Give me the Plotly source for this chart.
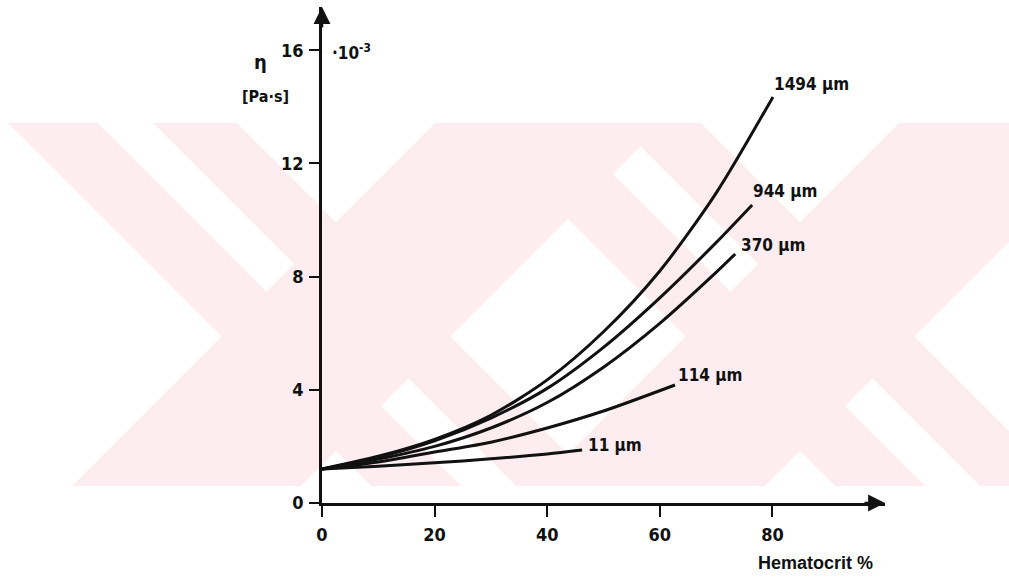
import plotly.graph_objects as go

# Hematocrit (%) and apparent viscosity (x 10^-3 Pa·s) for several tube diameters
hct_1494 = [0, 10, 20, 30, 40, 50, 60, 70, 80.1]
eta_1494 = [1.2, 1.65, 2.25, 3.1, 4.35, 6.05, 8.2, 10.95, 14.35]

hct_944 = [0, 10, 20, 30, 40, 50, 60, 70, 76.4]
eta_944 = [1.2, 1.62, 2.2, 3.0, 4.05, 5.5, 7.25, 9.2, 10.53]

hct_370 = [0, 10, 20, 30, 40, 50, 60, 70, 73.4]
eta_370 = [1.2, 1.55, 2.0, 2.65, 3.55, 4.8, 6.35, 8.15, 8.8]

hct_114 = [0, 10, 20, 30, 40, 50, 62.7]
eta_114 = [1.2, 1.45, 1.8, 2.15, 2.65, 3.25, 4.17]

hct_11 = [0, 10, 20, 30, 40, 46.2]
eta_11 = [1.2, 1.3, 1.42, 1.56, 1.73, 1.87]

series_labels = ["1494 µm", "944 µm", "370 µm", "114 µm", "11 µm"]
x_ticks = [0, 20, 40, 60, 80]
y_ticks = [0, 4, 8, 12, 16]

W, H = 1009, 586
L, R, T, B = 322, 124, 7, 83
PW, PH = W - L - R, H - T - B
X_MAX = 100
Y_MAX = PH / 28.3

FONT = "DejaVu Sans Condensed, Liberation Sans Narrow, DejaVu Sans, sans-serif"
INK = "#111111"


def px(x):
    return (x - L) / PW


def py(y):
    return (H - B - y) / PH


fig = go.Figure()

for xs, ys in [(hct_1494, eta_1494), (hct_944, eta_944), (hct_370, eta_370),
               (hct_114, eta_114), (hct_11, eta_11)]:
    fig.add_trace(go.Scatter(
        x=xs, y=ys, mode="lines",
        line=dict(color=INK, width=3, shape="spline", smoothing=0.8),
        hoverinfo="skip", showlegend=False,
    ))

# faint watermark bands behind the plot
PINK = "#fdedf0"
Y_TOP, Y_BOT = 123, 486


def back_band(a, b):
    # region where x - y lies in [a, b]
    return [(a + Y_TOP, Y_TOP), (b + Y_TOP, Y_TOP), (b + Y_BOT, Y_BOT), (a + Y_BOT, Y_BOT)]


def fwd_band(c, d):
    # region where x + y lies in [c, d]
    return [(c - Y_TOP, Y_TOP), (d - Y_TOP, Y_TOP), (d - Y_BOT, Y_BOT), (c - Y_BOT, Y_BOT)]


bands = []
for shift in (0, 464):
    bands.append(back_band(-115 + shift, -25 + shift))
    bands.append(back_band(30 + shift, 114 + shift))
    bands.append(fwd_band(558 + shift, 787 + shift))

shapes = []
for pts in bands:
    path = "M " + " L ".join(f"{px(x):.5f},{py(y):.5f}" for x, y in pts) + " Z"
    shapes.append(dict(type="path", path=path, xref="paper", yref="paper",
                       fillcolor=PINK, line=dict(width=0), layer="below"))


def label(txt, x, y, size, family=FONT, xanchor="center"):
    return dict(x=px(x), y=py(y), xref="paper", yref="paper", text=txt,
                showarrow=False, xanchor=xanchor, yanchor="middle",
                font=dict(family=family, size=size, color=INK, weight="bold"))


annotations = []
# axis arrowheads
annotations.append(dict(x=X_MAX, y=0, xref="x", yref="y", ax=-22, ay=0,
                        text="", showarrow=True, arrowhead=2, arrowsize=1.3,
                        arrowwidth=2.6, arrowcolor=INK))
annotations.append(dict(x=0, y=Y_MAX, xref="x", yref="y", ax=0, ay=22,
                        text="", showarrow=True, arrowhead=2, arrowsize=1.3,
                        arrowwidth=2.6, arrowcolor=INK))

label_pos = [(811, 84), (785, 191), (773, 245), (710, 375), (615, 445)]
for txt, (lx, ly) in zip(series_labels, label_pos):
    annotations.append(label(txt, lx, ly, 17))

annotations += [
    label("Hematocrit %", 815, 563, 18, family="Liberation Sans, Arial, sans-serif"),
    label("η", 260, 62, 20),
    label("[Pa·s]", 265, 97, 16),
    label("·10<sup>-3</sup>", 330, 52, 17, xanchor="left"),
]

tick_font = dict(family=FONT, size=18, color=INK, weight="bold")

fig.update_layout(
    width=W, height=H,
    margin=dict(l=L, r=R, t=T, b=B, pad=0),
    paper_bgcolor="white", plot_bgcolor="rgba(0,0,0,0)",
    shapes=shapes, annotations=annotations,
    xaxis=dict(range=[0, X_MAX], tickvals=x_ticks, ticktext=[str(v) for v in x_ticks],
               showgrid=False, zeroline=False, showline=True, linecolor=INK, linewidth=2.6,
               ticks="outside", ticklen=11, tickwidth=2.2, tickcolor=INK,
               tickfont=tick_font, ticklabelstandoff=3, fixedrange=True),
    yaxis=dict(range=[0, Y_MAX], tickvals=y_ticks, ticktext=[str(v) for v in y_ticks],
               showgrid=False, zeroline=False, showline=True, linecolor=INK, linewidth=2.6,
               ticks="outside", ticklen=10, tickwidth=2.2, tickcolor=INK,
               tickfont=tick_font, ticklabelstandoff=2, fixedrange=True),
)

fig.write_html("out.html")
